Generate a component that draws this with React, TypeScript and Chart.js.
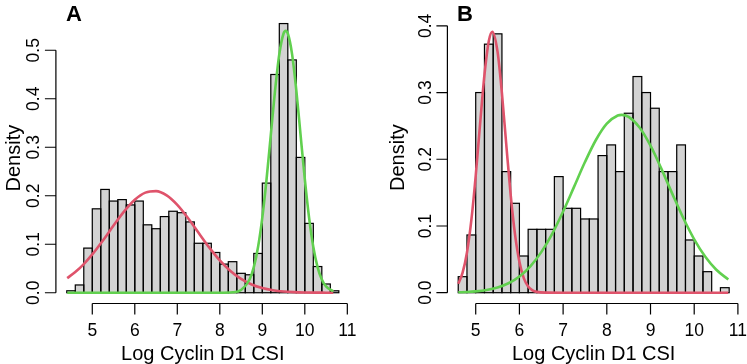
import React, { useEffect, useRef } from 'react';
import { Chart, registerables } from 'chart.js';

Chart.register(...registerables);

const W = 747;
const H = 364;
const FONT = '"Liberation Sans", Arial, Helvetica, sans-serif';

// ---------- Panel A data ----------
const binsA = [4.5, 4.7, 4.9, 5.1, 5.3, 5.5, 5.7, 5.9, 6.1, 6.3, 6.5, 6.7, 6.9, 7.1, 7.3, 7.5,
  7.7, 7.9, 8.1, 8.3, 8.5, 8.7, 8.9, 9.1, 9.3, 9.5, 9.7, 9.9, 10.1, 10.3, 10.5, 10.7];
const densA = [0.004, 0.016, 0.092, 0.173, 0.213, 0.189, 0.192, 0.181, 0.189, 0.140, 0.132, 0.157,
  0.168, 0.165, 0.146, 0.102, 0.102, 0.083, 0.059, 0.064, 0.040, 0.037, 0.081, 0.226, 0.450, 0.555,
  0.480, 0.279, 0.143, 0.054, 0.018, 0.004];
const redAx = [4.41, 4.6, 4.8, 5.0, 5.25, 5.5, 5.75, 6.0, 6.25, 6.5, 6.75, 7.0, 7.25, 7.5, 7.75, 8.0,
  8.25, 8.5, 8.75, 9.0, 9.25, 9.5, 9.75, 10.0, 10.25, 10.5, 10.67];
const redAy = [0.0301, 0.0426, 0.0591, 0.0790, 0.1077, 0.1385, 0.1678, 0.1917, 0.2064, 0.2096, 0.2007,
  0.1811, 0.1541, 0.1237, 0.0935, 0.0667, 0.0448, 0.0284, 0.0170, 0.0096, 0.0051, 0.0025, 0.0012,
  0.0005, 0.0002, 0.0001, 0.0];
const greenAx = [4.41, 8.0, 8.3, 8.5, 8.7, 8.8, 8.9, 9.0, 9.1, 9.2, 9.3, 9.4, 9.5, 9.55, 9.6, 9.7, 9.8,
  9.9, 10.0, 10.1, 10.2, 10.3, 10.4, 10.5, 10.67];
const greenAy = [0.0, 0.0, 0.0009, 0.0057, 0.0273, 0.0529, 0.0943, 0.1549, 0.2340, 0.3256, 0.4172,
  0.4921, 0.5345, 0.54, 0.5345, 0.4921, 0.4172, 0.3256, 0.2340, 0.1549, 0.0943, 0.0529, 0.0273,
  0.0130, 0.0030];
const yTicksA = [0, 0.1, 0.2, 0.3, 0.4, 0.5];

// ---------- Panel B data ----------
const binsB = [4.7, 4.9, 5.1, 5.3, 5.5, 5.7, 5.9, 6.1, 6.3, 6.5, 6.7, 6.9, 7.1, 7.3, 7.5, 7.7, 7.9,
  8.1, 8.3, 8.5, 8.7, 8.9, 9.1, 9.3, 9.5, 9.7, 9.9, 10.1, 10.3, 10.5, 10.7];
const densB = [0.024, 0.0865, 0.300, 0.3725, 0.388, 0.1815, 0.134, 0.055, 0.095, 0.095, 0.095, 0.174,
  0.1265, 0.1265, 0.1105, 0.1105, 0.2055, 0.2215, 0.1815, 0.269, 0.324, 0.300, 0.2765, 0.1815, 0.1815,
  0.2215, 0.079, 0.055, 0.0315, 0, 0.0075];
const redBx = [4.6, 4.7, 4.8, 4.9, 5.0, 5.1, 5.2, 5.3, 5.38, 5.5, 5.6, 5.7, 5.8, 5.9, 6.0, 6.1, 6.2,
  6.3, 6.4, 6.6, 7.0, 10.78];
const redBy = [0.0133, 0.0300, 0.0603, 0.1087, 0.1753, 0.2529, 0.3266, 0.3773, 0.391, 0.3609, 0.2988,
  0.2214, 0.1467, 0.0870, 0.0462, 0.0219, 0.0093, 0.0035, 0.0012, 0.0001, 0.0, 0.0];
const greenBx = [4.6, 4.8, 5.0, 5.25, 5.5, 5.75, 6.0, 6.25, 6.5, 6.75, 7.0, 7.25, 7.5, 7.75, 8.0, 8.25,
  8.34, 8.5, 8.75, 9.0, 9.25, 9.5, 9.75, 10.0, 10.25, 10.5, 10.78];
const greenBy = [0.0006, 0.0011, 0.0020, 0.0041, 0.0079, 0.0142, 0.0244, 0.0396, 0.0608, 0.0883,
  0.1217, 0.1586, 0.1958, 0.2289, 0.2534, 0.2656, 0.2665, 0.2635, 0.2476, 0.2203, 0.1856, 0.1481,
  0.1119, 0.0800, 0.0542, 0.0347, 0.0198];
const yTicksB = [0, 0.1, 0.2, 0.3, 0.4];

// ---------- Shared labels ----------
const xTicks = [5, 6, 7, 8, 9, 10, 11];
const xTitle = 'Log Cyclin D1 CSI';
const yTitle = 'Density';

const GRAY = '#D3D3D3';
const RED = '#DF536B';
const GREEN = '#61D04F';

type PanelCfg = {
  letter: string;
  bins: number[];
  dens: number[];
  redX: number[];
  redY: number[];
  greenX: number[];
  greenY: number[];
  yTicks: number[];
  xMin: number;
  xMax: number;
  yMin: number;
  yMax: number;
  area: { left: number; right: number; top: number; bottom: number };
  letterX: number;
  densityX: number;
};

const panelA: PanelCfg = {
  letter: 'A', bins: binsA, dens: densA, redX: redAx, redY: redAy, greenX: greenAx, greenY: greenAy,
  yTicks: yTicksA, xMin: 4.144, xMax: 11.056, yMin: -0.0222, yMax: 0.5772,
  area: { left: 55.9, right: 349.7, top: 12.8, bottom: 303.5 }, letterX: 66, densityX: 20,
};
const panelB: PanelCfg = {
  letter: 'B', bins: binsB, dens: densB, redX: redBx, redY: redBy, greenX: greenBx, greenY: greenBy,
  yTicks: yTicksB, xMin: 4.352, xMax: 11.048, yMin: -0.0162, yMax: 0.4212,
  area: { left: 447.4, right: 740.0, top: 11.7, bottom: 303.5 }, letterX: 457, densityX: 404,
};

const rStylePlugin = {
  id: 'rStyle',
  afterDatasetDraw(chart: any, args: any) {
    if (args.index !== 0) return;
    const ctx = chart.ctx;
    ctx.save();
    ctx.strokeStyle = '#000';
    ctx.lineWidth = 1.2;
    args.meta.data.forEach((el: any) => {
      const p = el.getProps(['x', 'y', 'base', 'width'], true);
      ctx.strokeRect(p.x - p.width / 2, p.y, p.width, p.base - p.y);
    });
    ctx.restore();
  },
  afterDraw(chart: any, _args: any, opts: any) {
    const ctx = chart.ctx;
    const a = chart.chartArea;
    const xs = chart.scales.x;
    const ys = chart.scales.y;
    ctx.save();
    ctx.strokeStyle = '#000';
    ctx.fillStyle = '#000';
    ctx.lineWidth = 1.2;
    // x axis
    const xb = a.bottom;
    ctx.beginPath();
    ctx.moveTo(xs.getPixelForValue(xTicks[0]), xb);
    ctx.lineTo(xs.getPixelForValue(xTicks[xTicks.length - 1]), xb);
    xTicks.forEach((v) => {
      const px = xs.getPixelForValue(v);
      ctx.moveTo(px, xb);
      ctx.lineTo(px, xb + 11);
    });
    // y axis
    const yt: number[] = opts.yTicks;
    const yl = a.left;
    ctx.moveTo(yl, ys.getPixelForValue(yt[0]));
    ctx.lineTo(yl, ys.getPixelForValue(yt[yt.length - 1]));
    yt.forEach((v) => {
      const py = ys.getPixelForValue(v);
      ctx.moveTo(yl, py);
      ctx.lineTo(yl - 11, py);
    });
    ctx.stroke();

    ctx.font = `17.5px ${FONT}`;
    ctx.textAlign = 'center';
    ctx.textBaseline = 'alphabetic';
    xTicks.forEach((v) => {
      ctx.fillText(String(v), xs.getPixelForValue(v), xb + 32);
    });
    yt.forEach((v) => {
      ctx.save();
      ctx.translate(yl - 16.7, ys.getPixelForValue(v));
      ctx.rotate(-Math.PI / 2);
      ctx.fillText(v.toFixed(1), 0, 0);
      ctx.restore();
    });

    ctx.font = `20px ${FONT}`;
    ctx.fillText(xTitle, (a.left + a.right) / 2, 360);
    ctx.save();
    ctx.translate(opts.densityX, (a.top + a.bottom) / 2);
    ctx.rotate(-Math.PI / 2);
    ctx.fillText(yTitle, 0, 0);
    ctx.restore();

    ctx.font = `bold 22px ${FONT}`;
    ctx.textAlign = 'left';
    ctx.fillText(opts.letter, opts.letterX, 21);
    ctx.restore();
  },
};

function Panel({ cfg }: { cfg: PanelCfg }) {
  const ref = useRef<HTMLCanvasElement>(null);
  useEffect(() => {
    const canvas = ref.current;
    if (!canvas) return;
    const chart = new Chart(canvas, {
      type: 'bar',
      data: {
        datasets: [
          {
            type: 'bar',
            data: cfg.bins.map((x, i) => ({ x, y: cfg.dens[i] })),
            backgroundColor: GRAY,
            borderWidth: 0,
            barPercentage: 1,
            categoryPercentage: 1,
            order: 3,
          } as any,
          {
            type: 'line',
            data: cfg.redX.map((x, i) => ({ x, y: cfg.redY[i] })),
            borderColor: RED,
            borderWidth: 2.6,
            pointRadius: 0,
            fill: false,
            cubicInterpolationMode: 'monotone',
            order: 2,
          } as any,
          {
            type: 'line',
            data: cfg.greenX.map((x, i) => ({ x, y: cfg.greenY[i] })),
            borderColor: GREEN,
            borderWidth: 2.6,
            pointRadius: 0,
            fill: false,
            cubicInterpolationMode: 'monotone',
            order: 1,
          } as any,
        ],
      },
      options: {
        animation: false,
        responsive: false,
        maintainAspectRatio: false,
        layout: {
          padding: {
            left: cfg.area.left,
            right: W - cfg.area.right,
            top: cfg.area.top,
            bottom: H - cfg.area.bottom,
          },
        },
        scales: {
          x: { type: 'linear', min: cfg.xMin, max: cfg.xMax, offset: false, display: false, ticks: { stepSize: 1 } },
          y: { type: 'linear', min: cfg.yMin, max: cfg.yMax, display: false },
        },
        plugins: {
          legend: { display: false },
          tooltip: { enabled: false },
          rStyle: { yTicks: cfg.yTicks, letter: cfg.letter, letterX: cfg.letterX, densityX: cfg.densityX },
        } as any,
      },
      plugins: [rStylePlugin],
    });
    return () => chart.destroy();
  }, [cfg]);
  return (
    <canvas
      ref={ref}
      width={W}
      height={H}
      style={{ position: 'absolute', left: 0, top: 0, width: W, height: H }}
    />
  );
}

export default function App() {
  return (
    <div style={{ position: 'fixed', left: 0, top: 0, width: W, height: H, background: '#fff' }}>
      <Panel cfg={panelA} />
      <Panel cfg={panelB} />
    </div>
  );
}
